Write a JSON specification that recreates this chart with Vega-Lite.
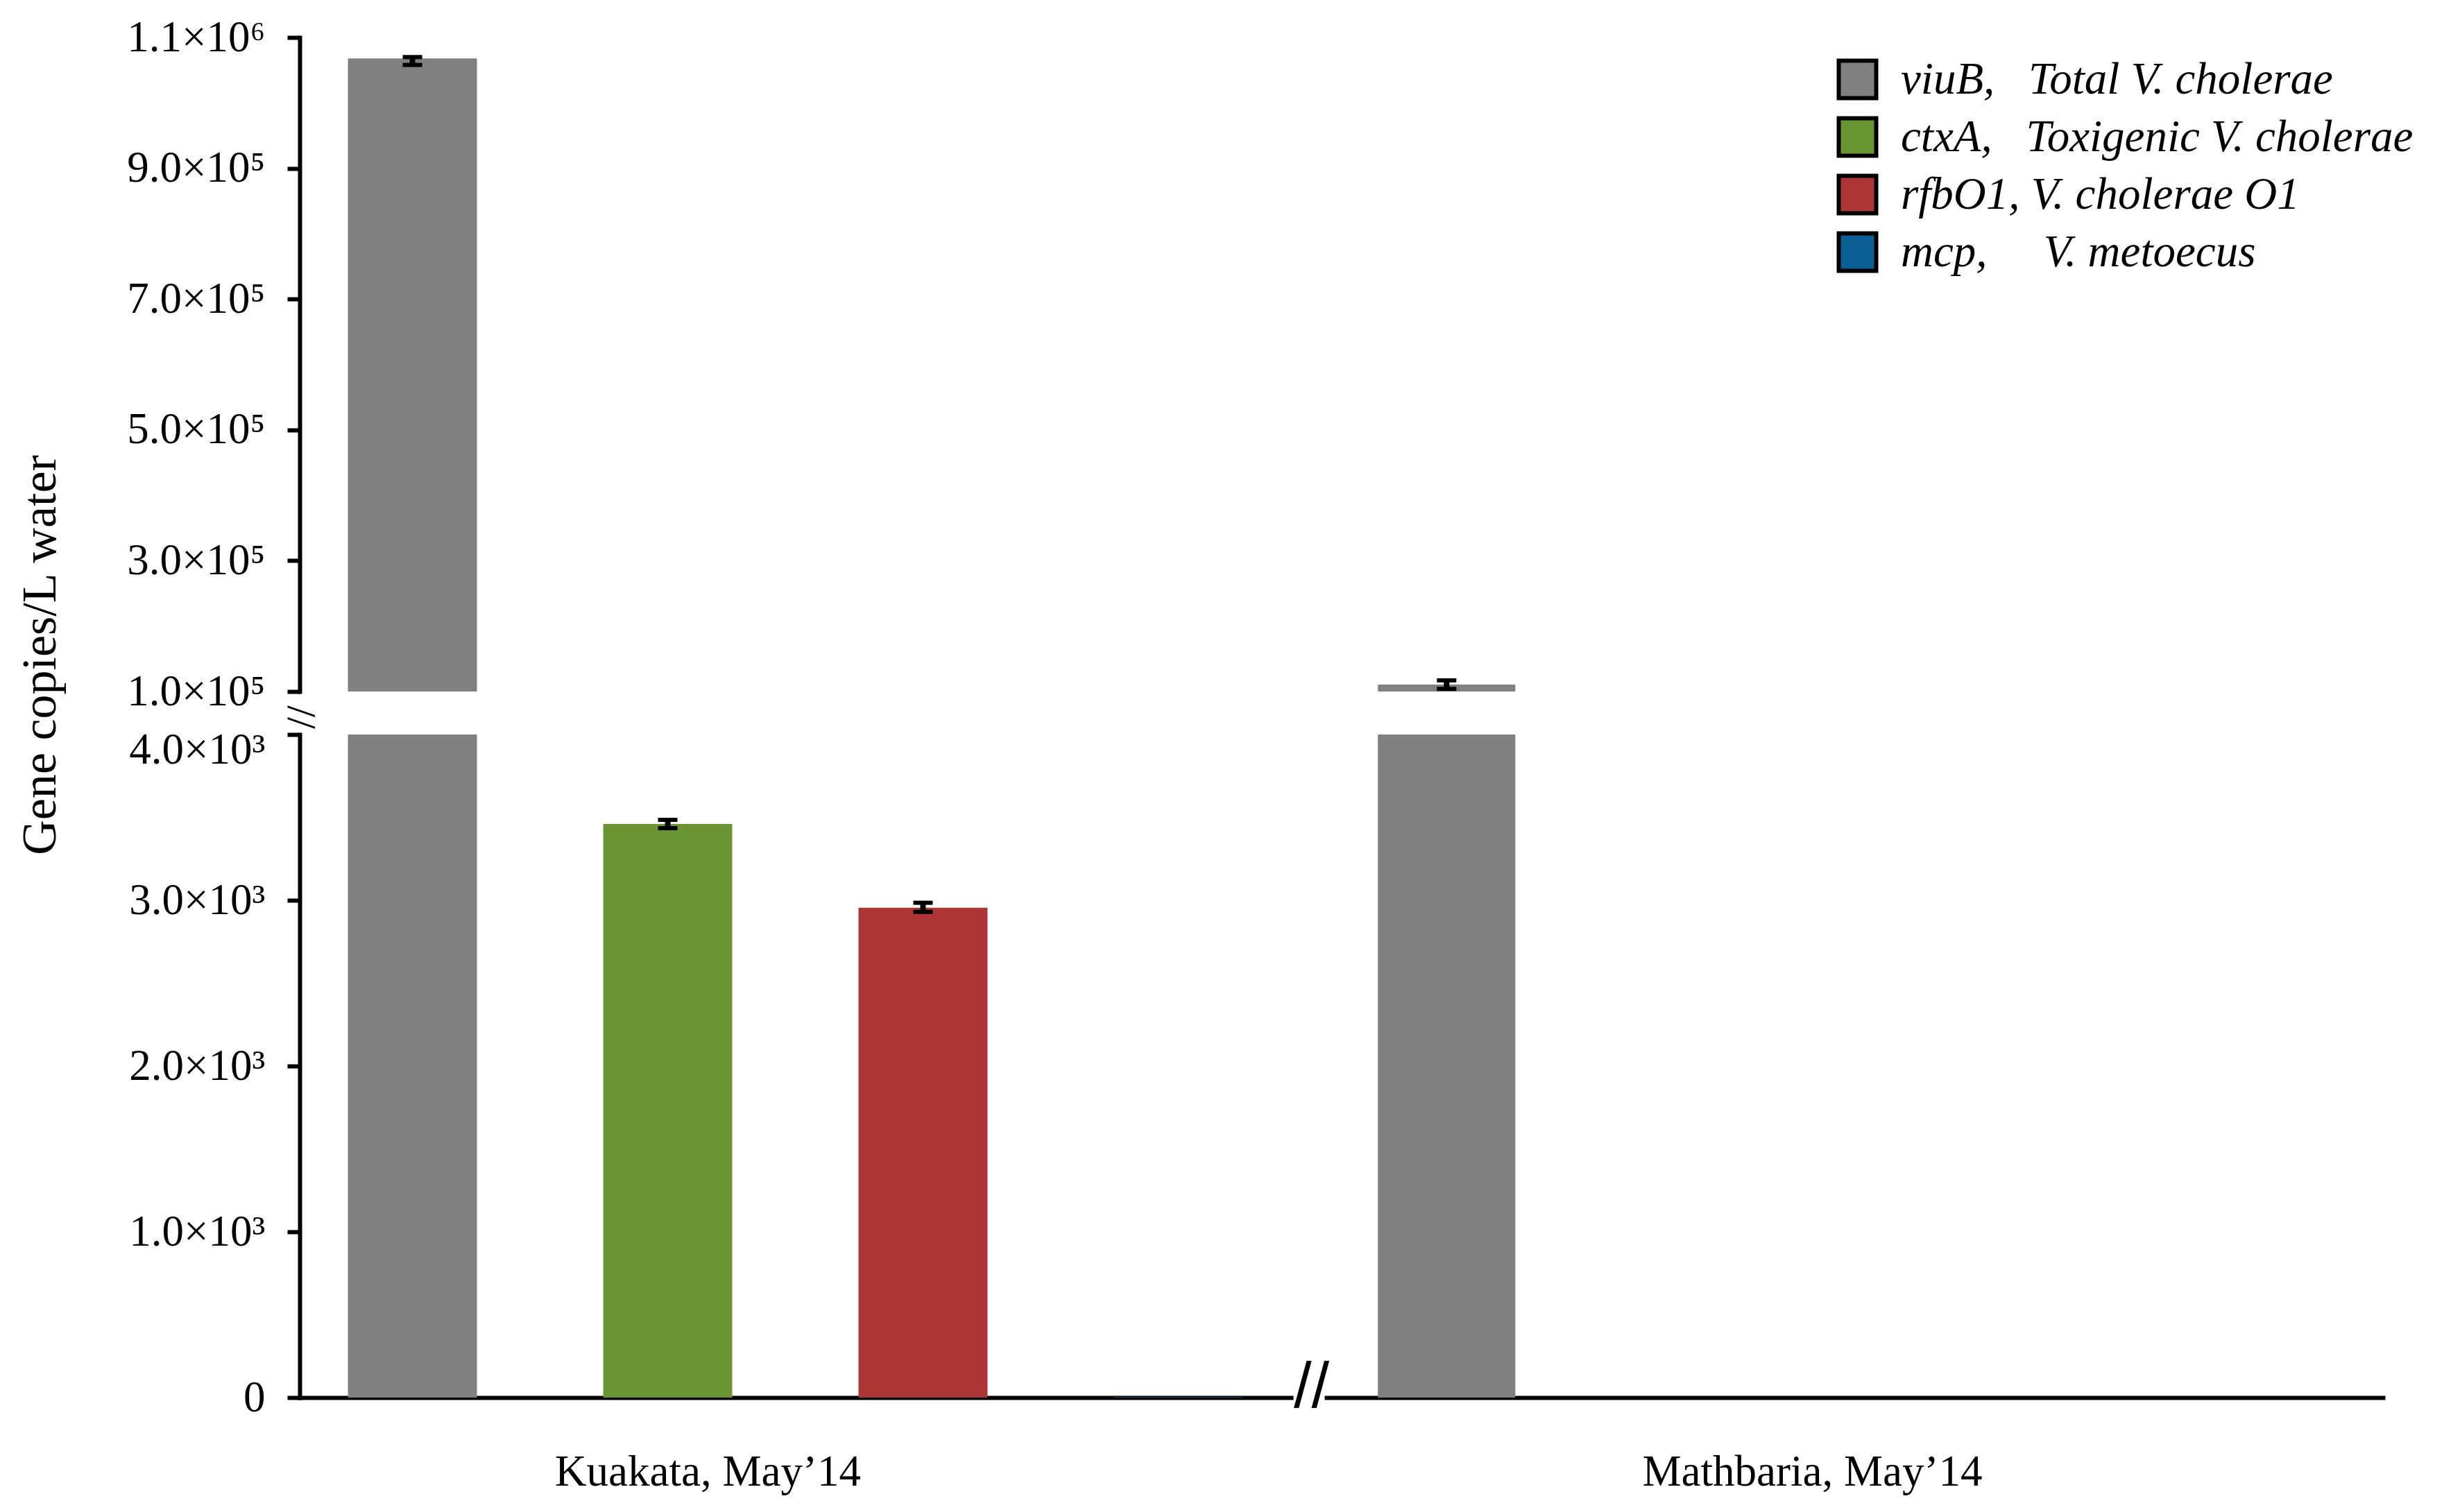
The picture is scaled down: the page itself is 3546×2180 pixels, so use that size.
{
  "$schema": "https://vega.github.io/schema/vega-lite/v6.json",
  "padding": {"left": 23, "top": 23, "right": 5, "bottom": 5},
  "background": "white",
  "config": {
    "font": "Liberation Serif",
    "view": {"stroke": null},
    "axis": {"grid": false, "domainColor": "black", "tickColor": "black", "labelColor": "black", "titleColor": "black", "labelFont": "Liberation Serif", "titleFont": "Liberation Serif", "labelFontSize": 63, "titleFontSize": 64, "titleFontWeight": "normal", "domainWidth": 6, "tickWidth": 6, "tickSize": 18, "labelPadding": 32, "labelLimit": 1000, "domainCap": "square"},
    "legend": {"orient": "none", "legendX": 2213, "legendY": 28, "padding": 0, "symbolType": "square", "symbolSize": 2916, "symbolStrokeWidth": 6, "symbolStrokeColor": "black", "labelFont": "Liberation Serif", "labelFontSize": 65, "labelFontStyle": "italic", "labelColor": "black", "labelOffset": 30, "rowPadding": 4, "labelLimit": 3000, "symbolOpacity": 1}
  },
  "datasets": {
    "genes": [
      {"site": "Kuakata", "gene": "viuB", "value": 1068000, "lo": 1058000, "hi": 1070000},
      {"site": "Kuakata", "gene": "ctxA", "value": 3460, "lo": 3435, "hi": 3485},
      {"site": "Kuakata", "gene": "rfbO1", "value": 2955, "lo": 2930, "hi": 2985},
      {"site": "Kuakata", "gene": "mcp", "value": 3},
      {"site": "Mathbaria", "gene": "viuB", "value": 110600, "lo": 104000, "hi": 117000},
      {"site": "Mathbaria", "gene": "ctxA", "value": 0},
      {"site": "Mathbaria", "gene": "rfbO1", "value": 0},
      {"site": "Mathbaria", "gene": "mcp", "value": 0}
    ]
  },
  "data": {"name": "genes"},
  "bounds": "flush",
  "align": "each",
  "columns": 2,
  "spacing": {"row": 62, "column": 51},
  "resolve": {"scale": {"x": "independent", "y": "independent"}},
  "concat": [
    {
      "width": 1429, "height": 943,
      "transform": [{"filter": "datum.site == 'Kuakata'"}],
      "encoding": {"x": {"field": "gene", "type": "nominal", "sort": ["viuB", "ctxA", "rfbO1", "mcp"], "scale": {"paddingInner": 0.4946, "paddingOuter": 0.189}, "axis": null}},
      "layer": [
        {"mark": {"type": "bar", "clip": true},
         "encoding": {
           "y": {"field": "value", "type": "quantitative", "stack": null, "scale": {"domain": [100000, 1100000], "zero": false, "nice": false},
                 "axis": {"values": [100000, 300000, 500000, 700000, 900000, 1100000], "labelExpr": "datum.value > 1000000 ? '1.1×10⁶' : format(datum.value / 100000, '.1f') + '×10⁵'", "title": null}},
           "color": {"field": "gene", "type": "nominal", "scale": {"domain": ["viuB", "ctxA", "rfbO1", "mcp"], "range": ["#808080", "#699533", "#AE3535", "#0B5E94"]},
                     "legend": {"title": null, "labelExpr": "datum.label == 'viuB' ? 'viuB,\u00a0\u00a0\u00a0Total V. cholerae' : datum.label == 'ctxA' ? 'ctxA,\u00a0\u00a0\u00a0Toxigenic V. cholerae' : datum.label == 'rfbO1' ? 'rfbO1, V. cholerae O1' : 'mcp,\u00a0\u00a0\u00a0\u00a0\u00a0V. metoecus'", "encode": {"symbols": {"update": {"stroke": {"value": "black"}, "strokeWidth": {"value": 6}}}}}}
         }},
        {"transform": [{"filter": "isValid(datum.hi)"}], "mark": {"type": "rule", "clip": true, "color": "black", "strokeWidth": 8}, "encoding": {"y": {"field": "lo", "type": "quantitative"}, "y2": {"field": "hi"}}},
        {"transform": [{"filter": "isValid(datum.hi)"}], "mark": {"type": "tick", "clip": true, "color": "black", "thickness": 6, "size": 28, "opacity": 1}, "encoding": {"y": {"field": "lo", "type": "quantitative"}}},
        {"transform": [{"filter": "isValid(datum.hi)"}], "mark": {"type": "tick", "clip": true, "color": "black", "thickness": 6, "size": 28, "opacity": 1}, "encoding": {"y": {"field": "hi", "type": "quantitative"}}}
      ]
    },
    {
      "width": 1523, "height": 943,
      "transform": [{"filter": "datum.site == 'Mathbaria'"}],
      "encoding": {"x": {"field": "gene", "type": "nominal", "sort": ["viuB", "ctxA", "rfbO1", "mcp"], "scale": {"paddingInner": 0.4946, "paddingOuter": 0.189}, "axis": null}},
      "layer": [
        {"mark": {"type": "bar", "clip": true},
         "encoding": {
           "y": {"field": "value", "type": "quantitative", "stack": null, "scale": {"domain": [100000, 1100000], "zero": false, "nice": false}, "axis": null},
           "color": {"field": "gene", "type": "nominal", "scale": {"domain": ["viuB", "ctxA", "rfbO1", "mcp"], "range": ["#808080", "#699533", "#AE3535", "#0B5E94"]},
                     "legend": {"title": null, "labelExpr": "datum.label == 'viuB' ? 'viuB,\u00a0\u00a0\u00a0Total V. cholerae' : datum.label == 'ctxA' ? 'ctxA,\u00a0\u00a0\u00a0Toxigenic V. cholerae' : datum.label == 'rfbO1' ? 'rfbO1, V. cholerae O1' : 'mcp,\u00a0\u00a0\u00a0\u00a0\u00a0V. metoecus'", "encode": {"symbols": {"update": {"stroke": {"value": "black"}, "strokeWidth": {"value": 6}}}}}}
         }},
        {"transform": [{"filter": "isValid(datum.hi)"}], "mark": {"type": "rule", "clip": true, "color": "black", "strokeWidth": 8}, "encoding": {"y": {"field": "lo", "type": "quantitative"}, "y2": {"field": "hi"}}},
        {"transform": [{"filter": "isValid(datum.hi)"}], "mark": {"type": "tick", "clip": true, "color": "black", "thickness": 6, "size": 28, "opacity": 1}, "encoding": {"y": {"field": "lo", "type": "quantitative"}}},
        {"transform": [{"filter": "isValid(datum.hi)"}], "mark": {"type": "tick", "clip": true, "color": "black", "thickness": 6, "size": 28, "opacity": 1}, "encoding": {"y": {"field": "hi", "type": "quantitative"}}}
      ]
    },
    {
      "width": 1429, "height": 956,
      "transform": [{"filter": "datum.site == 'Kuakata'"}],
      "encoding": {"x": {"field": "gene", "type": "nominal", "sort": ["viuB", "ctxA", "rfbO1", "mcp"], "scale": {"paddingInner": 0.4946, "paddingOuter": 0.189},
                         "axis": {"title": "Kuakata, May’14", "labels": false, "ticks": false, "titleFontSize": 63, "titleX": 588, "titleY": 126, "titleBaseline": "alphabetic", "titleAlign": "center"}}},
      "layer": [
        {"mark": {"type": "bar", "clip": true},
         "encoding": {
           "y": {"field": "value", "type": "quantitative", "stack": null, "title": "Gene copies/L water", "scale": {"domain": [0, 4000], "nice": false},
                 "axis": {"values": [0, 1000, 2000, 3000, 4000], "labelExpr": "datum.value == 0 ? '0' : format(datum.value / 1000, '.1f') + '×10³'", "labelOffset": {"condition": {"test": "datum.value == 4000", "value": 22}, "value": 0}, "title": "Gene copies/L water", "titleFontSize": 70, "titleX": -353, "titleY": -115, "titleAngle": -90, "titleBaseline": "alphabetic", "titleAlign": "center"}},
           "color": {"field": "gene", "type": "nominal", "scale": {"domain": ["viuB", "ctxA", "rfbO1", "mcp"], "range": ["#808080", "#699533", "#AE3535", "#0B5E94"]},
                     "legend": {"title": null, "labelExpr": "datum.label == 'viuB' ? 'viuB,\u00a0\u00a0\u00a0Total V. cholerae' : datum.label == 'ctxA' ? 'ctxA,\u00a0\u00a0\u00a0Toxigenic V. cholerae' : datum.label == 'rfbO1' ? 'rfbO1, V. cholerae O1' : 'mcp,\u00a0\u00a0\u00a0\u00a0\u00a0V. metoecus'", "encode": {"symbols": {"update": {"stroke": {"value": "black"}, "strokeWidth": {"value": 6}}}}}}
         }},
        {"transform": [{"filter": "isValid(datum.hi)"}], "mark": {"type": "rule", "clip": true, "color": "black", "strokeWidth": 8}, "encoding": {"y": {"field": "lo", "type": "quantitative", "title": "Gene copies/L water"}, "y2": {"field": "hi"}}},
        {"transform": [{"filter": "isValid(datum.hi)"}], "mark": {"type": "tick", "clip": true, "color": "black", "thickness": 6, "size": 28, "opacity": 1}, "encoding": {"y": {"field": "lo", "type": "quantitative", "title": "Gene copies/L water"}}},
        {"transform": [{"filter": "isValid(datum.hi)"}], "mark": {"type": "tick", "clip": true, "color": "black", "thickness": 6, "size": 28, "opacity": 1}, "encoding": {"y": {"field": "hi", "type": "quantitative", "title": "Gene copies/L water"}}},
        {"transform": [{"filter": "datum.gene == 'mcp'"}], "mark": {"type": "text", "text": "//", "fontSize": 92, "font": "Liberation Sans", "color": "black", "dx": 192, "dy": -14, "baseline": "middle", "align": "center"}, "encoding": {"y": {"datum": 0, "type": "quantitative", "title": "Gene copies/L water"}}},
        {"transform": [{"filter": "datum.gene == 'viuB'"}], "mark": {"type": "text", "text": "//", "fontSize": 60, "font": "Liberation Serif", "color": "black", "dx": -25, "dy": 162, "angle": 90, "baseline": "middle", "align": "center"}, "encoding": {"y": {"datum": 4000, "type": "quantitative", "title": "Gene copies/L water"}}}
      ]
    },
    {
      "width": 1523, "height": 956,
      "transform": [{"filter": "datum.site == 'Mathbaria'"}],
      "encoding": {"x": {"field": "gene", "type": "nominal", "sort": ["viuB", "ctxA", "rfbO1", "mcp"], "scale": {"paddingInner": 0.4946, "paddingOuter": 0.189},
                         "axis": {"title": "Mathbaria, May’14", "labels": false, "ticks": false, "titleFontSize": 63, "titleX": 700, "titleY": 126, "titleBaseline": "alphabetic", "titleAlign": "center"}}},
      "layer": [
        {"mark": {"type": "bar", "clip": true},
         "encoding": {
           "y": {"field": "value", "type": "quantitative", "stack": null, "scale": {"domain": [0, 4000], "nice": false}, "axis": null},
           "color": {"field": "gene", "type": "nominal", "scale": {"domain": ["viuB", "ctxA", "rfbO1", "mcp"], "range": ["#808080", "#699533", "#AE3535", "#0B5E94"]},
                     "legend": {"title": null, "labelExpr": "datum.label == 'viuB' ? 'viuB,\u00a0\u00a0\u00a0Total V. cholerae' : datum.label == 'ctxA' ? 'ctxA,\u00a0\u00a0\u00a0Toxigenic V. cholerae' : datum.label == 'rfbO1' ? 'rfbO1, V. cholerae O1' : 'mcp,\u00a0\u00a0\u00a0\u00a0\u00a0V. metoecus'", "encode": {"symbols": {"update": {"stroke": {"value": "black"}, "strokeWidth": {"value": 6}}}}}}
         }},
        {"transform": [{"filter": "isValid(datum.hi)"}], "mark": {"type": "rule", "clip": true, "color": "black", "strokeWidth": 8}, "encoding": {"y": {"field": "lo", "type": "quantitative"}, "y2": {"field": "hi"}}},
        {"transform": [{"filter": "isValid(datum.hi)"}], "mark": {"type": "tick", "clip": true, "color": "black", "thickness": 6, "size": 28, "opacity": 1}, "encoding": {"y": {"field": "lo", "type": "quantitative"}}},
        {"transform": [{"filter": "isValid(datum.hi)"}], "mark": {"type": "tick", "clip": true, "color": "black", "thickness": 6, "size": 28, "opacity": 1}, "encoding": {"y": {"field": "hi", "type": "quantitative"}}}
      ]
    }
  ]
}
